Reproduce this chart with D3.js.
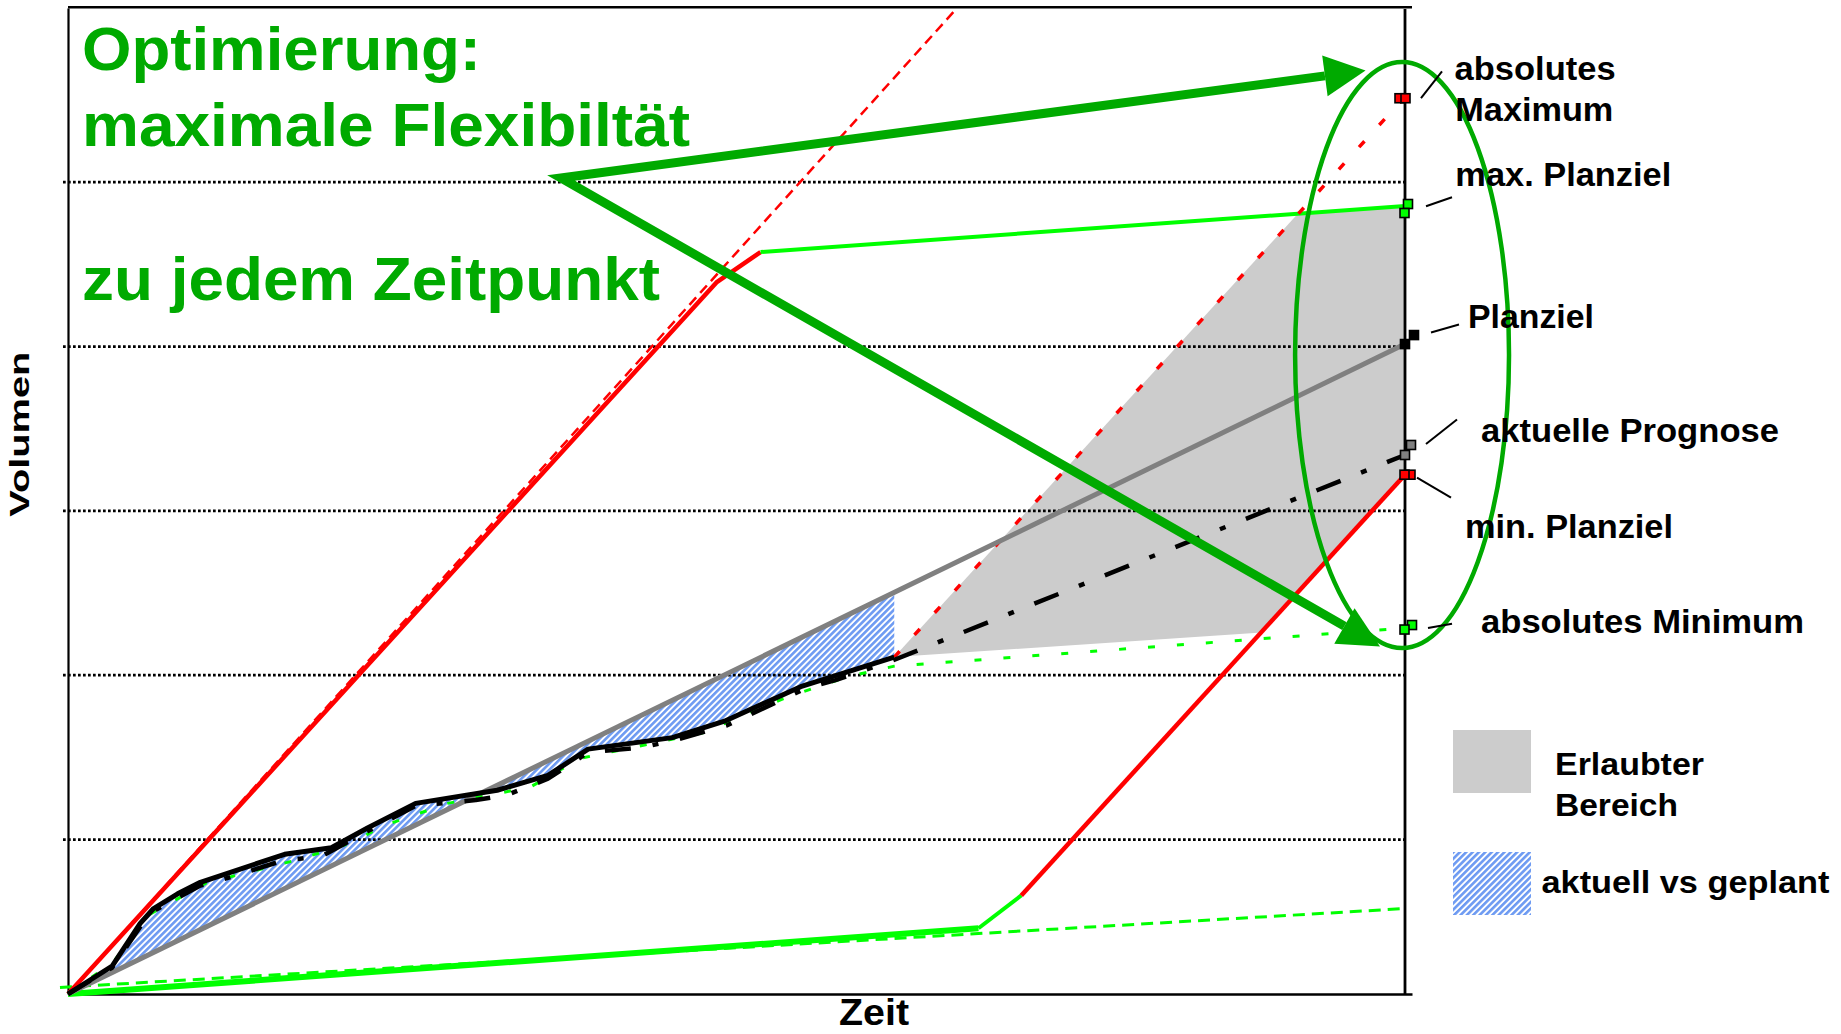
<!DOCTYPE html>
<html>
<head>
<meta charset="utf-8">
<script src="https://cdn.jsdelivr.net/npm/d3@7"></script>
<style>
  html, body { margin: 0; padding: 0; background: #ffffff; }
  svg { display: block; font-family: "Liberation Sans", Arial, Helvetica, sans-serif; font-weight: bold; }
</style>
</head>
<body>
<svg id="chart" width="1841" height="1034"></svg>
<script>
// ---- Daten: Zeit (0..100) gegen Volumen (0..60) ----

// Ist-Verlauf (aktuell)
const actual = [[0,0],[3.3,1.7],[5.4,4.3],[6.4,5.2],[8.2,6.1],[9.9,6.8],[16.2,8.5],[19.7,8.9],
  [22.4,10.1],[26.0,11.6],[32.1,12.4],[35.9,13.3],[38.9,14.9],[45.2,15.6],[49.1,16.6],[54.8,18.7],[61.8,20.5]];

// aktuelle Prognose (Strich-Punkt), laeuft unter dem Ist-Verlauf und dann bis zum Zielzeitpunkt
const forecast = [[0,0],[3.3,1.6],[5.4,4.1],[6.4,5.05],[9.9,6.6],[12.1,7.1],[16.2,8.15],[18.9,8.35],
  [22.4,9.9],[26.0,11.45],[30.5,11.8],[32.8,12.1],[35.9,13.1],[38.9,14.7],[42.9,15.0],[45.2,15.4],
  [49.3,16.35],[55.2,18.6],[57.4,19.1],[61.7,20.3],[100,32.8]];

// Planziel (geplanter Verlauf)
const plan = [[0,0],[100,39.55]];

// absolutes Minimum (gruen gestrichelt)
const minPath = [[0,0],[3.4,1.95],[6.0,4.8],[10.3,6.75],[14.9,7.7],[17.1,8.15],[21.4,9.25],[23.3,10.15],
  [28.4,11.6],[34.6,12.6],[36.4,13.45],[38.4,14.35],[47.5,15.9],[51.8,17.4],[53.9,18.1],[58.3,19.3],
  [61.8,19.95],[100,22.27]];

// maximaler Verlauf: rot bis zum Knick, danach max. Planziel (gruen)
const maxRise = [[0,0],[48.5,43.3],[51.8,45.15]];
const maxPlan = [[51.8,45.15],[100,47.95]];
const maxSlope = [[0,0],[66.5,60]];          // rote Strichlinie (steilster Verlauf)
const absMaxPath = [[61.8,20.5],[100,54.6]]; // rote Strichlinie zum absoluten Maximum

// minimaler Verlauf: flach (gruen), dann steil (rot) bis zum min. Planziel
const minFlat = [[0,0],[68.1,4.0]];
const minTurn = [[68.1,4.0],[71.3,6.0]];
const minRise = [[71.3,6.0],[100,31.6]];
const minSlope = [[-0.6,0.4],[100,5.2]];     // gruen gestrichelt (flachster Verlauf)

// Erlaubter Bereich ab heute
const allowed = [[61.8,20.5],[92.0,47.5],[100,47.95],[100,31.6],[89.3,22.0]];

// Hilfslinien
const gridValues = [9.43, 19.43, 29.43, 39.43, 49.43];

// Zielwerte am Zielzeitpunkt
const targetNames  = ["absolutes Maximum", "max. Planziel", "Planziel", "aktuelle Prognose", "min. Planziel", "absolutes Minimum"];
const targetValues = [54.6, 47.95, 39.55, 32.8, 31.6, 22.27];
const targetColors = ["#ff0000", "#00ff00", "#000000", "#808080", "#ff0000", "#00ff00"];

// Beschriftung am rechten Rand (Zeilen je Ziel)
const targetLabels = [["absolutes", "Maximum"], ["max. Planziel"], ["Planziel"], ["aktuelle Prognose"], ["min. Planziel"], ["absolutes Minimum"]];

// Hinweistexte
const noteLines = ["Optimierung:", "maximale Flexibiltät", "zu jedem Zeitpunkt"];
const legendItems = [["Erlaubter", "Bereich"], ["aktuell vs geplant"]];

// ---- Darstellung ----
const svg = d3.select("#chart");
const x = d3.scaleLinear().domain([0, 100]).range([68, 1405]);
const y = d3.scaleLinear().domain([0, 60]).range([994, 8]);
const line = d3.line().x(d => x(d[0])).y(d => y(d[1]));

const defs = svg.append("defs");
defs.append("clipPath").attr("id", "plotClip")
  .append("rect").attr("x", x(0)).attr("y", y(60) + 2).attr("width", x(100) - x(0)).attr("height", y(0) - y(60));

const hatch = defs.append("pattern").attr("id", "hatch")
  .attr("patternUnits", "userSpaceOnUse").attr("width", 4.5).attr("height", 4.5)
  .attr("patternTransform", "rotate(45)");
hatch.append("rect").attr("width", 4.5).attr("height", 4.5).attr("fill", "#ffffff");
hatch.append("rect").attr("width", 2.6).attr("height", 4.5).attr("fill", "#6d9af2");

// Erlaubter Bereich
svg.append("path")
  .attr("d", d3.line().x(d => x(d[0])).y(d => y(d[1])).curve(d3.curveLinearClosed)(allowed))
  .attr("fill", "#cccccc");

// Abweichung aktuell vs geplant
const planAt = d3.scaleLinear().domain(plan.map(d => d[0])).range(plan.map(d => d[1]));
const area = d3.area().x(d => x(d[0])).y0(d => y(planAt(d[0]))).y1(d => y(d[1]));
svg.append("path").datum(actual).attr("d", area).attr("fill", "url(#hatch)");

// Hilfslinien
const grid = svg.append("g").attr("transform", `translate(${x(0)},0)`)
  .call(d3.axisLeft(y).tickValues(gridValues).tickSize(-(x(100) - x(0))).tickFormat(""));
grid.select(".domain").remove();
grid.selectAll(".tick line")
  .attr("x1", -5)
  .attr("stroke", "#000").attr("stroke-width", 2.7).attr("stroke-dasharray", "2.7,2.3");

// Achsen
const axL = svg.append("g").attr("transform", `translate(${x(0)},0)`)
  .call(d3.axisLeft(y).ticks(0).tickSizeOuter(0));
axL.select(".domain").attr("stroke", "#000").attr("stroke-width", 2.2);
const axB = svg.append("g").attr("transform", `translate(0,${y(0)})`)
  .call(d3.axisBottom(x.copy().range([68, 1412])).ticks(0).tickSizeOuter(0));
axB.select(".domain").attr("stroke", "#000").attr("stroke-width", 2.6);
svg.append("line").attr("x1", x(100)).attr("x2", x(100)).attr("y1", y(60) + 1).attr("y2", y(0))
  .attr("stroke", "#000").attr("stroke-width", 2.8);
svg.append("line").attr("x1", x(0)).attr("x2", 1412).attr("y1", y(60) - 0.7).attr("y2", y(60) - 0.7)
  .attr("stroke", "#000").attr("stroke-width", 2.6);

const plot = svg.append("g").attr("clip-path", "url(#plotClip)");
function draw(data, color, width, dash, parent) {
  return (parent || svg).append("path").datum(data).attr("d", line)
    .attr("fill", "none").attr("stroke", color).attr("stroke-width", width)
    .attr("stroke-dasharray", dash || null).attr("stroke-linejoin", "round");
}

// flachste / steilste Verlaeufe
draw(minSlope, "#00ff00", 3, "12,7");
draw(minFlat, "#00ff00", 6);
draw(minTurn, "#00ff00", 4);
draw(minRise, "#ff0000", 4.5);
draw(maxSlope, "#ff0000", 2.5, "10,6", plot);
draw(maxRise, "#ff0000", 4.5);
draw(maxPlan, "#00ff00", 4);
draw(absMaxPath, "#ff0000", 3.5, "8,22");

// Plan, Minimum, Prognose, Ist
draw(plan, "#808080", 5);
draw(minPath, "#00ff00", 3, "7,22");
draw(forecast, "#000000", 4.5, "26,22,6,22");
draw(actual, "#000000", 5);

// Zielmarken am Zielzeitpunkt
const markerOffsets = [[[-5.5, 1.5], [0.5, 1.5]], [[3, -2], [-0.5, 7]], [[0, 0], [9, -9]],
  [[6, -10], [0, 0]], [[5.5, 0], [-0.5, 0]], [[7, -3], [-0.5, 1.5]]];
const leaderOffsets = [[[16, 1.5], [37, -25.3]], [[21, 0.2], [47, -8.8]], [[26, -11.5], [54, -19.5]],
  [[21, -11], [52, -35.4]], [[12, 3], [46, 23]], [[23, 0], [47, -4.3]]];
const labelOffsets = [[[49.6, -16.3], [50.3, 24.7]], [[50.3, -19.9]], [[63, -16.1]], [[76, -13]], [[60, 63.3]], [[76, 5]]];
const labelWidths = [[161, 158], [216], [126], [298], [208], [323]];

const markers = svg.append("g");
targetValues.forEach((v, i) => {
  const cx = x(100), cy = y(v);
  markerOffsets[i].forEach(o => {
    markers.append("rect").attr("x", cx + o[0] - 4.5).attr("y", cy + o[1] - 4.5)
      .attr("width", 9).attr("height", 9)
      .attr("fill", targetColors[i]).attr("stroke", "#000").attr("stroke-width", 1.6);
  });
});

// Hinweis-Pfeile
const green = "#00aa00";
const vertex = [x(36.87), y(49.66)];
const tips = [[x(97.05), y(56.2)], [x(98.13), y(21.15)]];
const heads = tips.map(t => {
  const dx = t[0] - vertex[0], dy = t[1] - vertex[1], len = Math.hypot(dx, dy);
  return { tip: t, u: [dx / len, dy / len], base: [t[0] - 41 * dx / len, t[1] - 41 * dy / len] };
});
svg.append("path")
  .attr("d", `M${heads[0].base}L${vertex}L${heads[1].base}`)
  .attr("fill", "none").attr("stroke", green).attr("stroke-width", 9).attr("stroke-linejoin", "miter");
heads.forEach(b => {
  const n = [-b.u[1], b.u[0]];
  svg.append("path")
    .attr("d", `M${b.tip}L${b.base[0] + 20.5 * n[0]},${b.base[1] + 20.5 * n[1]}L${b.base[0] - 20.5 * n[0]},${b.base[1] - 20.5 * n[1]}Z`)
    .attr("fill", green);
});

// Ellipse um die Zielwerte
svg.append("ellipse")
  .attr("cx", x(99.78)).attr("cy", y(38.88))
  .attr("rx", x(8.0) - x(0)).attr("ry", y(0) - y(17.83))
  .attr("fill", "none").attr("stroke", green).attr("stroke-width", 4.5);

// Hinweislinien und Beschriftungen der Ziele
targetValues.forEach((v, i) => {
  const cx = x(100), cy = y(v);
  const l = leaderOffsets[i];
  svg.append("line").attr("x1", cx + l[0][0]).attr("y1", cy + l[0][1])
    .attr("x2", cx + l[1][0]).attr("y2", cy + l[1][1])
    .attr("stroke", "#000").attr("stroke-width", 2);
  targetLabels[i].forEach((txt, k) => {
    svg.append("text").attr("x", cx + labelOffsets[i][k][0]).attr("y", cy + labelOffsets[i][k][1])
      .attr("font-size", 33).attr("fill", "#000")
      .attr("textLength", labelWidths[i][k]).attr("lengthAdjust", "spacingAndGlyphs")
      .text(txt);
  });
});

// Hinweistext
const notePos = [[1.05, 56.25], [1.05, 51.62], [1.05, 42.25]];
const noteWidths = [399, 608, 578];
noteLines.forEach((t, i) => {
  svg.append("text").attr("x", x(notePos[i][0])).attr("y", y(notePos[i][1]))
    .attr("font-size", 62).attr("fill", green)
    .attr("textLength", noteWidths[i]).attr("lengthAdjust", "spacingAndGlyphs")
    .text(t);
});

// Legende
const legend = svg.append("g");
legend.append("rect").attr("x", 1453).attr("y", 730).attr("width", 78).attr("height", 63).attr("fill", "#cccccc");
legend.append("rect").attr("x", 1453).attr("y", 852).attr("width", 78).attr("height", 63).attr("fill", "url(#hatch)");
const legendPos = [[[1555, 775, 149], [1555, 816, 123]], [[1541.5, 893, 288]]];
legendItems.forEach((lines, i) => {
  lines.forEach((t, k) => {
    const p = legendPos[i][k];
    legend.append("text").attr("x", p[0]).attr("y", p[1]).attr("font-size", 30.5).attr("fill", "#000")
      .attr("textLength", p[2]).attr("lengthAdjust", "spacingAndGlyphs").text(t);
  });
});

// Achsentitel
svg.append("text").attr("x", 839).attr("y", 1025).attr("font-size", 36).attr("fill", "#000")
  .attr("textLength", 70).attr("lengthAdjust", "spacingAndGlyphs").text("Zeit");
svg.append("text").attr("transform", "translate(28.5,434.2) rotate(-90) scale(1,0.72)")
  .attr("text-anchor", "middle").attr("font-size", 39).attr("fill", "#000")
  .attr("textLength", 165).attr("lengthAdjust", "spacingAndGlyphs").text("Volumen");
</script>
</body>
</html>
